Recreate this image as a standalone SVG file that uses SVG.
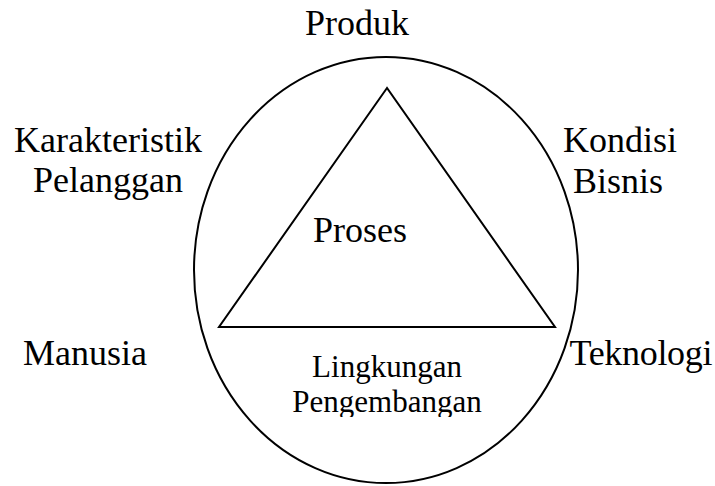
<svg xmlns="http://www.w3.org/2000/svg" width="715" height="486" viewBox="0 0 715 486">
<style>
text{font-family:'Liberation Serif','Times New Roman','DejaVu Serif',serif;fill:#000}
.t{font-size:36px}
.s{font-size:31px}
.ln{fill:none;stroke:#000;stroke-width:2}
</style>
<defs>
<clipPath id="clipLP"><rect x="250" y="340" width="270" height="77"/></clipPath>
</defs>
<rect width="715" height="486" fill="#fff"/>
<g id="lingkungan">
<ellipse class="ln" cx="386" cy="270" rx="192" ry="213"/>
<g clip-path="url(#clipLP)">
<text class="s" font-family="Liberation Serif" x="387" y="377" text-anchor="middle">Lingkungan</text>
<text class="s" font-family="Liberation Serif" x="387" y="412" text-anchor="middle">Pengembangan</text>
</g>
</g>
<g id="proses">
<polygon class="ln" points="387,88 219,327 555,327" stroke-width="1.8"/>
<text class="t" font-family="Liberation Serif" x="360" y="242" text-anchor="middle">Proses</text>
</g>
<g id="produk"><text class="t" font-family="Liberation Serif" x="357" y="35" text-anchor="middle">Produk</text></g>
<g id="karakteristik">
<text class="t" font-family="Liberation Serif" x="108" y="152" text-anchor="middle">Karakteristik</text>
<text class="t" font-family="Liberation Serif" x="108" y="192" text-anchor="middle">Pelanggan</text>
</g>
<g id="kondisi">
<text class="t" font-family="Liberation Serif" x="620" y="152" text-anchor="middle">Kondisi</text>
<text class="t" font-family="Liberation Serif" x="618" y="193" text-anchor="middle">Bisnis</text>
</g>
<g id="manusia"><text class="t" font-family="Liberation Serif" x="85" y="365" text-anchor="middle">Manusia</text></g>
<g id="teknologi"><text class="t" font-family="Liberation Serif" x="641" y="365" text-anchor="middle" textLength="143">Teknologi</text></g>
<g id="connectors"></g>
</svg>
